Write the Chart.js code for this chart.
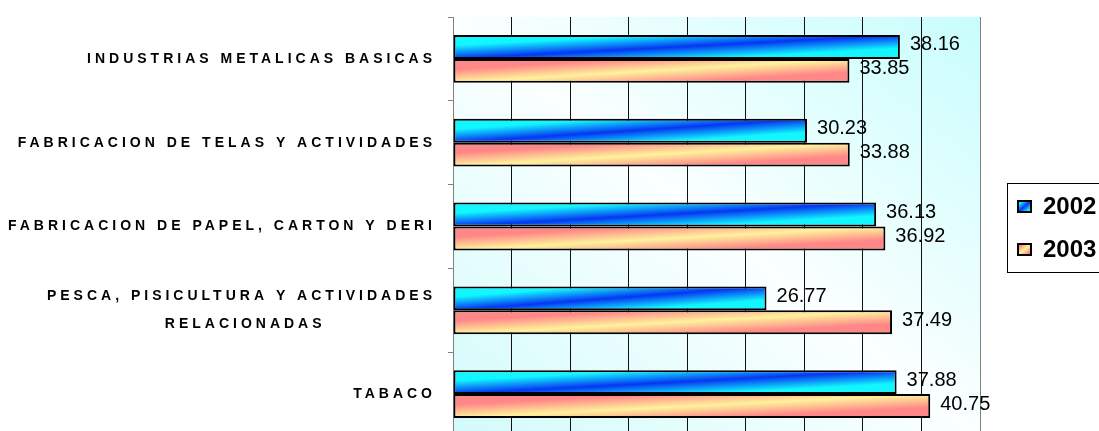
<!DOCTYPE html>
<html>
<head>
<meta charset="utf-8">
<script src="https://cdn.jsdelivr.net/npm/chart.js@4/dist/chart.umd.min.js"></script>
<style>
  html, body { margin: 0; padding: 0; background: #fff; overflow: hidden; }
  #wrap { width: 1099px; height: 431px; overflow: hidden; position: relative; }
  canvas { display: block; }
</style>
</head>
<body>
<div id="wrap"><canvas id="chart" width="1099" height="437"></canvas></div>
<script>
// Industry categories (one multi-line label)
const categories = [
  'INDUSTRIAS METALICAS BASICAS',
  'FABRICACION DE TELAS Y ACTIVIDADES',
  'FABRICACION DE PAPEL, CARTON Y DERI',
  ['PESCA, PISICULTURA Y ACTIVIDADES', 'RELACIONADAS'],
  'TABACO'
];
const seriesNames = ['2002', '2003'];
const values2002 = [38.16, 30.23, 36.13, 26.77, 37.88];
const values2003 = [33.85, 33.88, 36.92, 37.49, 40.75];
const valueTicks = [0, 5, 10, 15, 20, 25, 30, 35, 40, 45];

const FONT = '"Liberation Sans", Arial, Helvetica, sans-serif';
const LABEL_FONT_SIZE = 14;
const LABEL_SPACING = '4px';
const CAT_PCT = 0.57;

// Gradient colours: edge / middle of each bar's diagonal blend
const palettes = [
  { edge: '#12f6ff', mid: '#0636f2' },
  { edge: '#ff8787', mid: '#fff29c' }
];

// Centre the lines of a multi-line label inside its right-aligned block
function centerLines(label) {
  if (!Array.isArray(label)) return label;
  const m = document.createElement('canvas').getContext('2d');
  m.font = 'bold ' + LABEL_FONT_SIZE + 'px ' + FONT;
  m.letterSpacing = LABEL_SPACING;
  const widths = label.map(l => m.measureText(l).width);
  const maxW = Math.max(...widths);
  const sp = m.measureText(' ').width;
  return label.map((l, i) => l + ' '.repeat(Math.round((maxW - widths[i]) / 2 / sp)));
}
const tickLabels = categories.map(centerLines);

// Diagonal gradient across a rectangle (isolines run corner to corner)
function diagGradient(ctx, left, top, w, h, towardTopRight, stops) {
  const cx = left + w / 2, cy = top + h / 2;
  const L = Math.sqrt(w * w + h * h);
  const d = w * h / L;
  const ux = h / L, uy = towardTopRight ? -w / L : w / L;
  const g = ctx.createLinearGradient(cx - d * ux, cy - d * uy, cx + d * ux, cy + d * uy);
  stops.forEach(s => g.addColorStop(s[0], s[1]));
  return g;
}

function bandStops(p) {
  return [[0, p.edge], [0.22, p.edge], [0.5, p.mid], [0.78, p.edge], [1, p.edge]];
}

function barFill(dsIndex) {
  const p = palettes[dsIndex];
  return (c) => {
    if (c.type !== 'data' || !c.chart.chartArea) return p.edge;
    const xs = c.chart.scales.x, ys = c.chart.scales.y;
    const x0 = xs.getPixelForValue(0), x1 = xs.getPixelForValue(c.raw);
    const band = Math.abs(ys.getPixelForValue(1) - ys.getPixelForValue(0));
    const barH = band * CAT_PCT / 2;
    const yc = ys.getPixelForValue(c.dataIndex) + (dsIndex - 0.5) * barH;
    return diagGradient(c.chart.ctx, Math.min(x0, x1), yc - barH / 2, Math.abs(x1 - x0), barH,
      false, bandStops(p));
  };
}

// Plot-area background, letter spacing for category labels
const backdrop = {
  id: 'backdrop',
  beforeDraw(chart) {
    const { ctx, chartArea: a } = chart;
    ctx.save();
    const w = a.right - a.left, h = a.bottom - a.top;
    ctx.fillStyle = diagGradient(ctx, a.left, a.top, w, h, true,
      [[0, '#d2fbfb'], [0.5, '#fbffff'], [1, '#c8fdfd']]);
    ctx.fillRect(a.left, a.top, w, h);
    ctx.restore();
    ctx.letterSpacing = LABEL_SPACING;
  },
  beforeDatasetsDraw(chart) {
    chart.ctx.letterSpacing = '0px';
  }
};

// Value labels at the end of each bar
const valueLabels = {
  id: 'valueLabels',
  afterDatasetsDraw(chart) {
    const ctx = chart.ctx;
    ctx.save();
    ctx.font = '20px ' + FONT;
    ctx.fillStyle = '#000';
    ctx.textAlign = 'left';
    ctx.textBaseline = 'middle';
    chart.data.datasets.forEach((ds, di) => {
      chart.getDatasetMeta(di).data.forEach((el, i) => {
        ctx.fillText(ds.data[i].toFixed(2), el.x + 10, el.y - 2);
      });
    });
    ctx.restore();
  }
};

// Framed legend on the right
const framedLegend = {
  id: 'framedLegend',
  afterDraw(chart) {
    const ctx = chart.ctx;
    const a = chart.chartArea;
    const left = a.right + 27, top = 183, bottom = 272;
    ctx.save();
    ctx.strokeStyle = '#000';
    ctx.lineWidth = 1;
    ctx.strokeRect(left + 0.5, top + 0.5, 200, bottom - top);
    ctx.font = 'bold 24px ' + FONT;
    ctx.textBaseline = 'middle';
    ctx.textAlign = 'left';
    const rows = [207, 250];
    chart.data.datasets.forEach((ds, i) => {
      const bx = left + 10, by = rows[i] - 7, bw = 15, bh = 13;
      const p = palettes[i];
      ctx.fillStyle = diagGradient(ctx, bx, by, bw, bh, false, bandStops(p));
      ctx.fillRect(bx, by, bw, bh);
      ctx.lineWidth = 2;
      ctx.strokeStyle = '#000';
      ctx.strokeRect(bx + 1, by + 1, bw - 2, bh - 2);
      ctx.fillStyle = '#000';
      ctx.fillText(ds.label, left + 36, rows[i]);
    });
    ctx.restore();
  }
};

new Chart(document.getElementById('chart'), {
  type: 'bar',
  data: {
    labels: tickLabels,
    datasets: seriesNames.map((name, i) => ({
      label: name,
      data: i === 0 ? values2002 : values2003,
      backgroundColor: barFill(i),
      borderColor: '#000',
      borderWidth: 2,
      borderSkipped: false,
      categoryPercentage: CAT_PCT,
      barPercentage: 1
    }))
  },
  options: {
    indexAxis: 'y',
    responsive: false,
    animation: false,
    devicePixelRatio: 1,
    layout: { autoPadding: false, padding: { left: 0, top: 17, right: 119, bottom: 1 } },
    plugins: { legend: { display: false }, tooltip: { enabled: false } },
    scales: {
      x: {
        min: valueTicks[0],
        max: valueTicks[valueTicks.length - 1],
        afterBuildTicks: (s) => { s.ticks = valueTicks.map(v => ({ value: v })); },
        ticks: { display: false },
        grid: {
          drawTicks: false,
          color: (c) => (c.index === 0 || c.index === valueTicks.length - 1) ? '#808080' : '#111',
          lineWidth: 1
        },
        border: { display: false },
        afterFit: (s) => { s.height = 0; s.paddingLeft = 0; s.paddingRight = 0; }
      },
      y: {
        offset: true,
        grid: { offset: true, drawOnChartArea: false, drawTicks: true, tickLength: 5, color: '#808080' },
        border: { display: true, color: '#808080', width: 1 },
        ticks: {
          color: '#000',
          padding: 12,
          font: { family: FONT, weight: 'bold', size: LABEL_FONT_SIZE, lineHeight: 2 }
        },
        afterFit: (s) => { s.width = 453; s.paddingTop = 0; s.paddingBottom = 0; }
      }
    }
  },
  plugins: [backdrop, valueLabels, framedLegend]
});
</script>
</body>
</html>
